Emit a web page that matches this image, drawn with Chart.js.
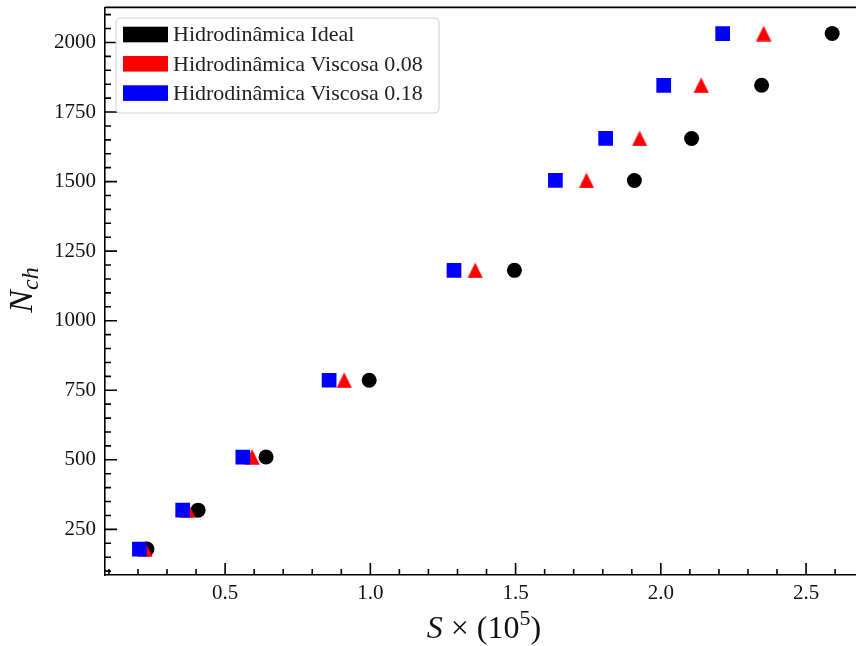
<!DOCTYPE html>
<html>
<head>
<meta charset="utf-8">
<script src="https://cdn.jsdelivr.net/npm/chart.js@4.4.0/dist/chart.umd.min.js"></script>
<style>
  html, body { margin: 0; padding: 0; background: #fff; }
  #wrap { width: 856px; height: 646px; overflow: hidden; }
  #nchChart { display: block; margin-top: -3px; }
</style>
</head>
<body>
<div id="wrap"><canvas id="nchChart" width="867" height="649"></canvas></div>
<script>
// N_ch (same for the three runs)
const nch = [179, 319, 510, 786, 1181, 1504, 1655, 1846, 2032];
// S x 10^5 for each run
const sIdeal = [0.231, 0.407, 0.641, 0.996, 1.496, 1.909, 2.106, 2.347, 2.590];
const sVisc008 = [0.224, 0.372, 0.593, 0.910, 1.361, 1.744, 1.927, 2.139, 2.354];
const sVisc018 = [0.205, 0.354, 0.561, 0.858, 1.288, 1.637, 1.810, 2.010, 2.213];

const xTicks = [0.5, 1.0, 1.5, 2.0, 2.5];
const yTicks = [250, 500, 750, 1000, 1250, 1500, 1750, 2000];

const seriesNames = ['Hidrodinâmica Ideal', 'Hidrodinâmica Viscosa 0.08', 'Hidrodinâmica Viscosa 0.18'];
const seriesColors = ['black', 'red', 'blue'];

const serif = "'Liberation Serif', 'Times New Roman', serif";

// matplotlib-like '^' marker (width == height)
function makeTriangle(color, size) {
    var c = document.createElement('canvas');
    c.width = size;
    c.height = size;
    var g = c.getContext('2d');
    g.fillStyle = color;
    g.beginPath();
    g.moveTo(size / 2, 0.3);
    g.lineTo(size - 0.3, size - 0.3);
    g.lineTo(0.3, size - 0.3);
    g.closePath();
    g.fill();
    return c;
}

function toPoints(xs) {
    return xs.map((s, i) => ({ x: s, y: nch[i] }));
}

// spines, inward ticks, legend box and axis titles
// (canvas is drawn 3px higher than the page, so page y = canvas y - 3)
const decorPlugin = {
    id: 'decor',
    afterDraw(chart) {
        const ctx = chart.ctx;
        const a = chart.chartArea;
        const xs = chart.scales.x;
        const ys = chart.scales.y;
        const off = 3;
        ctx.save();
        ctx.strokeStyle = 'black';
        ctx.lineWidth = 1.6;

        // top spine
        ctx.beginPath();
        ctx.moveTo(a.left, a.top);
        ctx.lineTo(a.right, a.top);
        ctx.stroke();

        // ticks pointing inside
        ctx.beginPath();
        for (let i = 1; i * 0.1 <= xs.max; i++) {
            const v = i / 10;
            if (v < xs.min) continue;
            const px = xs.getPixelForValue(v);
            const len = (i % 5 === 0) ? 12 : 6;
            ctx.moveTo(px, a.bottom);
            ctx.lineTo(px, a.bottom - len);
        }
        for (let v = 50; v <= ys.max; v += 50) {
            if (v < ys.min) continue;
            const py = ys.getPixelForValue(v);
            const len = (v % 250 === 0) ? 12 : 6;
            ctx.moveTo(a.left, py);
            ctx.lineTo(a.left + len, py);
        }
        ctx.stroke();

        // legend
        const lx = 116, ly = 18 + off, lw = 323, lh = 95, r = 4;
        ctx.beginPath();
        ctx.moveTo(lx + r, ly);
        ctx.arcTo(lx + lw, ly, lx + lw, ly + lh, r);
        ctx.arcTo(lx + lw, ly + lh, lx, ly + lh, r);
        ctx.arcTo(lx, ly + lh, lx, ly, r);
        ctx.arcTo(lx, ly, lx + lw, ly, r);
        ctx.closePath();
        ctx.fillStyle = 'rgba(255,255,255,0.8)';
        ctx.fill();
        ctx.strokeStyle = '#d2d2d2';
        ctx.lineWidth = 1;
        ctx.stroke();

        ctx.font = '22px ' + serif;
        ctx.textBaseline = 'middle';
        ctx.textAlign = 'left';
        seriesNames.forEach((name, i) => {
            const cy = 34.5 + off + i * 29.3;
            ctx.fillStyle = seriesColors[i];
            ctx.fillRect(123, cy - 7.8, 45, 15.6);
            ctx.fillStyle = '#222';
            ctx.fillText(name, 173, cy + 1);
        });

        // x title: S x (10^5)
        ctx.fillStyle = '#111';
        ctx.textBaseline = 'alphabetic';
        const xParts = [
            { t: 'S', f: 'italic 32px ' + serif, dy: 0 },
            { t: ' \u00d7 (10', f: '32px ' + serif, dy: 0 },
            { t: '5', f: '22px ' + serif, dy: -13 },
            { t: ')', f: '32px ' + serif, dy: 0 }
        ];
        drawParts(ctx, xParts, 484, 638 + off);

        // y title: N_ch
        ctx.save();
        ctx.translate(32, 290 + off);
        ctx.rotate(-Math.PI / 2);
        const yParts = [
            { t: 'N', f: 'italic 34px ' + serif, dy: 0 },
            { t: 'ch', f: 'italic 24px ' + serif, dy: 6 }
        ];
        drawParts(ctx, yParts, 0, 0);
        ctx.restore();

        ctx.restore();
    }
};

function drawParts(ctx, parts, cx, baseY) {
    let total = 0;
    parts.forEach(p => { ctx.font = p.f; p.w = ctx.measureText(p.t).width; total += p.w; });
    let x = cx - total / 2;
    ctx.textAlign = 'left';
    parts.forEach(p => {
        ctx.font = p.f;
        ctx.fillText(p.t, x, baseY + p.dy);
        x += p.w;
    });
}

const ctx = document.getElementById('nchChart').getContext('2d');
const chart = new Chart(ctx, {
    type: 'scatter',
    data: {
        datasets: [{
            label: seriesNames[0],
            data: toPoints(sIdeal),
            pointStyle: 'circle',
            pointRadius: 7.5,
            pointBackgroundColor: seriesColors[0],
            pointBorderWidth: 0,
            order: 3
        }, {
            label: seriesNames[1],
            data: toPoints(sVisc008),
            pointStyle: makeTriangle(seriesColors[1], 16),
            pointRadius: 8,
            pointBackgroundColor: seriesColors[1],
            pointBorderWidth: 0,
            order: 2
        }, {
            label: seriesNames[2],
            data: toPoints(sVisc018),
            pointStyle: 'rect',
            pointRadius: 10.4,
            pointBackgroundColor: seriesColors[2],
            pointBorderWidth: 0,
            order: 1
        }]
    },
    options: {
        responsive: false,
        animation: false,
        layout: { padding: { top: 4, left: 0, right: 0, bottom: 0 } },
        plugins: {
            legend: { display: false },
            tooltip: { enabled: false }
        },
        scales: {
            x: {
                type: 'linear',
                min: 0.0865,
                max: 2.674,
                afterFit: function (s) {
                    s.height = 71;
                    s.paddingLeft = 0;
                    s.paddingRight = 0;
                },
                afterBuildTicks: function (s) { s.ticks = xTicks.map(v => ({ value: v })); },
                grid: { display: false, drawTicks: false },
                border: { display: true, color: 'black', width: 1.6 },
                ticks: {
                    color: '#111',
                    autoSkip: false,
                    maxRotation: 0,
                    padding: 6,
                    font: { family: serif, size: 21 },
                    callback: function (value) { return value.toFixed(1); }
                }
            },
            y: {
                type: 'linear',
                min: 86,
                max: 2126,
                afterFit: function (s) {
                    s.width = 105;
                    s.paddingTop = 0;
                    s.paddingBottom = 0;
                },
                afterBuildTicks: function (s) { s.ticks = yTicks.map(v => ({ value: v })); },
                grid: { display: false, drawTicks: false },
                border: { display: true, color: 'black', width: 1.6 },
                ticks: {
                    color: '#111',
                    autoSkip: false,
                    padding: 9,
                    font: { family: serif, size: 21 },
                    callback: function (value) { return String(value); }
                }
            }
        }
    },
    plugins: [decorPlugin]
});
</script>
</body>
</html>
